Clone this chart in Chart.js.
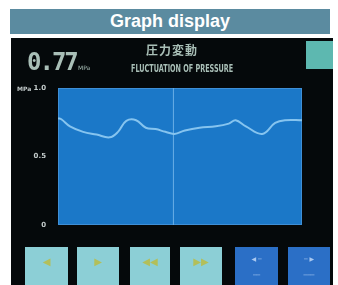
<!DOCTYPE html>
<html>
<head>
<meta charset="utf-8">
<script src="https://cdn.jsdelivr.net/npm/chart.js@4"></script>
<style>
  html, body { margin: 0; padding: 0; background: #fff; width: 338px; height: 285px; overflow: hidden; }
  .bar { position: absolute; left: 10px; top: 9px; width: 320px; height: 25px; background: #5b8ba0;
         color: #fff; font: bold 18px "Liberation Sans", Arial, sans-serif; text-align: center; line-height: 25px; }
  .screen { position: absolute; left: 11px; top: 38px; width: 322px; height: 247px; background: #05090b; }
  .txt { position: absolute; color: #a9bfb7; white-space: nowrap; filter: blur(0.5px); }
  .btn { position: absolute; top: 247px; height: 38px; }
  .btn.c { background: #8ccfd6; }
  .btn.b { background: #2b6fc6; }
  .ico { position: absolute; left: 0; right: 0; top: 9px; text-align: center; color: #b3bf5a; font: 10px "DejaVu Sans", sans-serif; filter: blur(0.6px); }
  .lbl { position: absolute; left: 0; right: 0; text-align: center; color: #a9c8f0; font: 6px "DejaVu Sans", sans-serif; filter: blur(0.4px); }
  #c { position: absolute; left: 0; top: 0; }
</style>
</head>
<body>
<div class="bar">Graph display</div>
<div class="screen"></div>

<div class="txt" style="left:27px; top:48px; font:bold 24px 'DejaVu Sans Mono', monospace; letter-spacing:-2px;">0.77</div>
<div class="txt" style="left:78px; top:64px; font:6px 'DejaVu Sans', sans-serif;">MPa</div>
<div class="txt" style="left:146px; top:41px; font:bold 12px 'Noto Sans CJK JP', sans-serif; letter-spacing:1px;">圧力変動</div>
<div class="txt" style="left:131px; top:63px; font:bold 10px 'DejaVu Sans Condensed', sans-serif; transform:scaleX(0.72); transform-origin:left;">FLUCTUATION OF PRESSURE</div>
<div style="position:absolute; left:306px; top:41px; width:27px; height:28px; background:#5db8b0;"></div>
<div class="txt" style="left:17px; top:85px; font:bold 6px 'DejaVu Sans', sans-serif; color:#c4cccc;">MPa</div>

<div class="btn c" style="left:25px; width:43px;"><div class="ico">◀</div></div>
<div class="btn c" style="left:77px; width:42px;"><div class="ico">▶</div></div>
<div class="btn c" style="left:130px; width:40px;"><div class="ico">◀◀</div></div>
<div class="btn c" style="left:180px; width:42px;"><div class="ico">▶▶</div></div>
<div class="btn b" style="left:235px; width:43px;"><div class="lbl" style="top:8px;">◀ ─</div><div class="lbl" style="top:24px;">──</div></div>
<div class="btn b" style="left:288px; width:42px;"><div class="lbl" style="top:8px;">─ ▶</div><div class="lbl" style="top:24px;">───</div></div>

<canvas id="c" width="338" height="285"></canvas>

<script>
const times = [0, 1.5, 4.9, 10.3, 15.8, 21.2, 24.6, 28, 32, 36, 40, 44, 47.7, 52, 58, 64.7, 70, 72.8, 77, 83.7, 89, 93, 100];
const pressure = [0.78, 0.77, 0.72, 0.68, 0.66, 0.64, 0.68, 0.76, 0.765, 0.71, 0.70, 0.68, 0.665, 0.69, 0.71, 0.72, 0.74, 0.765, 0.72, 0.665, 0.745, 0.765, 0.765];
const cursorTime = 47.3;
const yTicks = [0, 0.5, 1.0];

// blue plot background
const plotBg = {
    id: 'plotBg',
    beforeDraw(chart) {
        const { ctx, chartArea: a } = chart;
        ctx.save();
        ctx.fillStyle = '#1b78c8';
        ctx.fillRect(a.left, a.top, a.right - a.left, a.bottom - a.top);
        ctx.strokeStyle = '#3f8fd6';
        ctx.lineWidth = 1;
        ctx.strokeRect(a.left + 0.5, a.top + 0.5, a.right - a.left - 1, a.bottom - a.top - 1);
        ctx.restore();
    }
};

new Chart(document.getElementById('c'), {
    type: 'line',
    data: {
        datasets: [
            { data: times.map((t, i) => ({ x: t, y: pressure[i] })), borderColor: '#86c4ef', borderWidth: 2, tension: 0.4, pointRadius: 0 },
            { data: [{ x: cursorTime, y: 0 }, { x: cursorTime, y: 1 }], borderColor: '#6aaee6', borderWidth: 1, pointRadius: 0 }
        ]
    },
    options: {
        responsive: false,
        animation: false,
        layout: { padding: { left: 0, top: 88, right: 36, bottom: 60 } },
        plugins: { legend: { display: false }, tooltip: { enabled: false } },
        scales: {
            x: { type: 'linear', min: 0, max: 100, display: false },
            y: {
                min: 0, max: 1.0,
                afterFit(scale) { scale.width = 58; },
                afterBuildTicks(scale) { scale.ticks = yTicks.map(v => ({ value: v })); },
                border: { display: false },
                grid: { display: false },
                ticks: {
                    color: '#c4cccc', font: { size: 7, family: 'DejaVu Sans', weight: 'bold' }, padding: 4,
                    callback: v => v === 0 ? '0' : v.toFixed(1)
                }
            }
        }
    },
    plugins: [plotBg]
});
</script>
</body>
</html>
